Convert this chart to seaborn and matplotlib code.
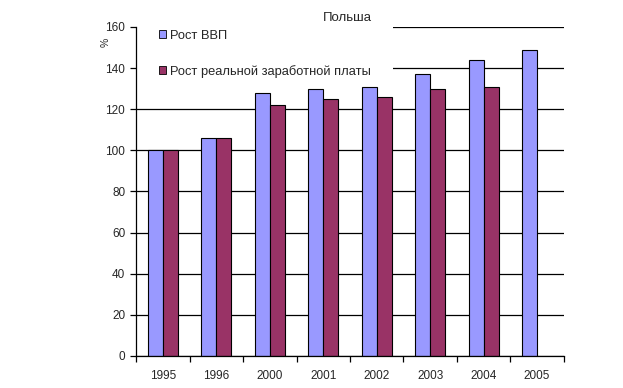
import numpy as np
import pandas as pd
import matplotlib.pyplot as plt
import seaborn as sns
from matplotlib.patches import Patch, Rectangle

# data
years = ['1995', '1996', '2000', '2001', '2002', '2003', '2004', '2005']
gdp = [100, 106, 128, 130, 131, 137, 144, 149]
wages = [100, 106, 122, 125, 126, 130, 131, np.nan]
series = ['Рост ВВП', 'Рост реальной заработной платы']
colors = ['#9999ff', '#993366']

sns.set_style('white')
plt.rcParams['font.family'] = ['Liberation Sans', 'DejaVu Sans']

df = pd.DataFrame({
    'year': years * 2,
    'value': gdp + wages,
    'series': [series[0]] * len(years) + [series[1]] * len(years),
})

fig = plt.figure(figsize=(6.23, 3.88), dpi=100)
ax = fig.add_axes([0.2188, 0.0825, 0.686, 0.848])

sns.barplot(data=df, x='year', y='value', hue='series', hue_order=series,
            palette=colors, width=0.56, edgecolor='black', linewidth=0.8,
            saturation=1, ax=ax, legend=False, zorder=2)

ax.set_xlim(-0.5, len(years) - 0.5)
ax.set_ylim(0, 160)
ax.set_yticks(range(0, 161, 20))
ax.yaxis.grid(True, color='black', lw=0.9)
ax.set_axisbelow(True)
ax.set_xlabel('')
ax.set_ylabel('')

# category separators as ticks, labels at centers
ax.set_xticks(np.arange(-0.5, len(years), 1.0))
ax.set_xticklabels([])
ax.set_xticks(np.arange(len(years)), minor=True)
ax.set_xticklabels(years, minor=True)
ax.tick_params(axis='x', which='major', length=4, width=0.9, color='black', direction='out', bottom=True)
ax.tick_params(axis='x', which='minor', length=0, pad=10, labelsize=8.5)
ax.tick_params(axis='y', length=4, width=0.9, color='black', direction='out', left=True, pad=4, labelsize=8.5)

for side in ['top', 'right']:
    ax.spines[side].set_visible(False)
for side in ['left', 'bottom']:
    ax.spines[side].set_color('black')
    ax.spines[side].set_linewidth(0.9)

# white legend area hiding the grid
ax.add_patch(Rectangle((0.002, 0.84), 0.598, 0.2, transform=ax.transAxes,
                       facecolor='white', edgecolor='none', zorder=1.5, clip_on=False))

handles = [Patch(facecolor=c, edgecolor='black', linewidth=0.6) for c in colors]
ax.legend(handles, series, loc='upper left', bbox_to_anchor=(0.052, 0.992),
          frameon=False, fontsize=9.3, borderpad=0, borderaxespad=0,
          handlelength=0.55, handleheight=0.55, handletextpad=0.3,
          labelspacing=1.8)

fig.text(0.557, 0.954, 'Польша', ha='center', va='center', fontsize=9.5)
fig.text(0.169, 0.89, '%', ha='center', va='center', fontsize=7.5, rotation=90)

fig.savefig('out.png', dpi=100)
